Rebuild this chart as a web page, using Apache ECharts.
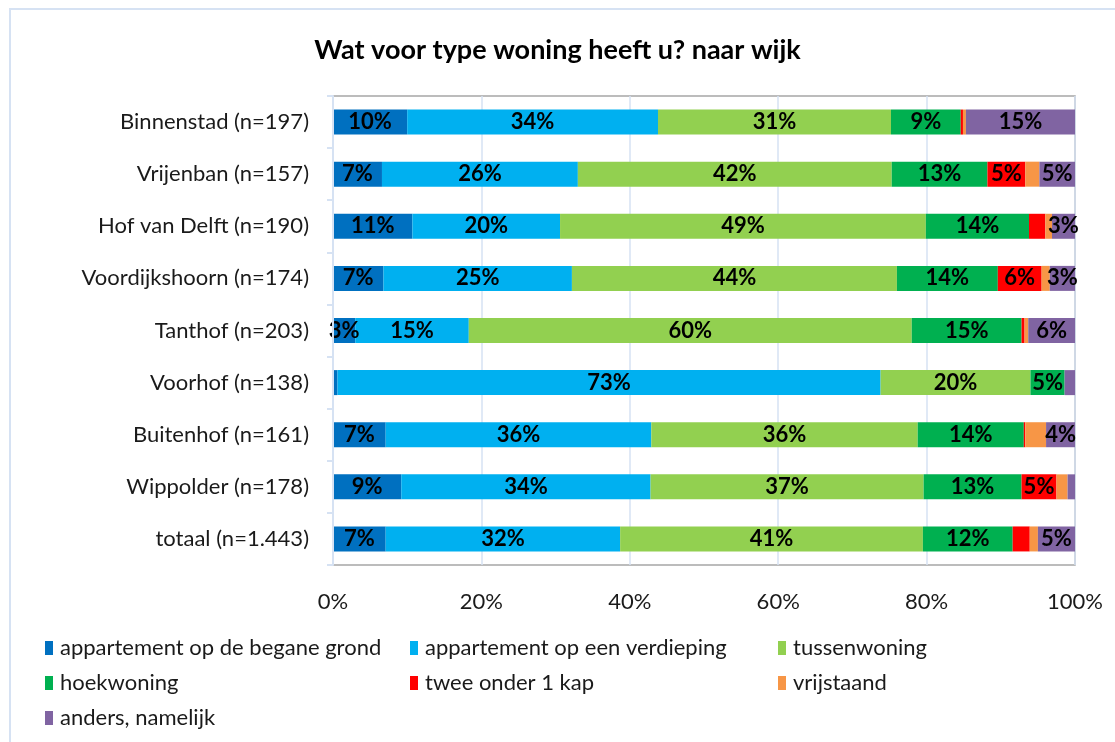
<!DOCTYPE html>
<html>
<head>
<meta charset="utf-8">
<script src="https://cdn.jsdelivr.net/npm/echarts@6/dist/echarts.min.js"></script>
<style>
  html, body { margin: 0; padding: 0; background: #fff; }
  #frame { position: absolute; left: 9px; top: 8px; width: 1120px; height: 740px;
           border-left: 2px solid #d6e2f3; border-top: 2px solid #d6e2f3; }
  #chart { position: absolute; left: 0; top: 0; width: 1115px; height: 742px; }
</style>
</head>
<body>
<div id="frame"></div>
<div id="chart"></div>
<script>
// wijken, top to bottom
const wijken = [
  'Binnenstad (n=197)', 'Vrijenban (n=157)', 'Hof van Delft (n=190)',
  'Voordijkshoorn (n=174)', 'Tanthof (n=203)', 'Voorhof (n=138)',
  'Buitenhof (n=161)', 'Wippolder (n=178)', 'totaal (n=1.443)'
];
const xTicks = ['0%', '20%', '40%', '60%', '80%', '100%'];

const apptBegane   = [10.0, 6.6, 10.7, 6.8, 3.0, 0.6, 7.1, 9.2, 7.1];
const apptVerdiep  = [33.8, 26.4, 19.9, 25.4, 15.3, 73.2, 35.8, 33.6, 31.6];
const tussenwoning = [31.4, 42.3, 49.3, 43.8, 59.7, 20.2, 35.9, 36.8, 40.8];
const hoekwoning   = [9.4, 12.9, 13.9, 13.6, 14.8, 4.6, 14.3, 13.2, 12.1];
const tweeOnder1   = [0.3, 5.1, 2.2, 5.9, 0.4, 0.0, 0.2, 4.7, 2.3];
const vrijstaand   = [0.4, 1.9, 0.9, 1.1, 0.5, 0.0, 2.8, 1.5, 1.1];
const anders       = [14.7, 4.8, 3.1, 3.4, 6.3, 1.4, 3.9, 1.0, 5.0];

const seriesDefs = [
  { name: 'appartement op de begane grond', data: apptBegane, color: '#0070c0' },
  { name: 'appartement op een verdieping', data: apptVerdiep, color: '#00b0f0' },
  { name: 'tussenwoning', data: tussenwoning, color: '#92d050' },
  { name: 'hoekwoning', data: hoekwoning, color: '#00b050' },
  { name: 'twee onder 1 kap', data: tweeOnder1, color: '#ff0000' },
  { name: 'vrijstaand', data: vrijstaand, color: '#f79646' },
  { name: 'anders, namelijk', data: anders, color: '#8064a2' }
];

const font = 'Lato, "Open Sans", sans-serif';
const chart = echarts.init(document.getElementById('chart'));

const legendBase = {
  orient: 'vertical',
  top: 632,
  itemGap: 13,
  itemWidth: 8,
  itemHeight: 14,
  icon: 'rect',
  selectedMode: false,
  textStyle: { fontFamily: font, fontSize: 22, color: '#1a1a1a', padding: [0, 0, 0, 2] }
};

chart.setOption({
  animation: false,
  color: seriesDefs.map(s => s.color),
  title: {
    text: 'Wat voor type woning heeft u? naar wijk',
    left: 'center',
    top: 32,
    textStyle: { fontFamily: font, fontSize: 27, fontWeight: 'bold', color: '#000' }
  },
  legend: [
    Object.assign({ left: 40, data: [seriesDefs[0].name, seriesDefs[3].name, seriesDefs[6].name] }, legendBase),
    Object.assign({ left: 405, data: [seriesDefs[1].name, seriesDefs[4].name] }, legendBase),
    Object.assign({ left: 773, data: [seriesDefs[2].name, seriesDefs[5].name] }, legendBase)
  ],
  grid: {
    left: 333, right: 40, top: 96, bottom: 177,
    show: true, borderColor: '#a6a6a6', borderWidth: 1.5,
    containLabel: false
  },
  xAxis: {
    type: 'value',
    min: 0, max: 100, interval: 20,
    axisLine: { show: false },
    axisTick: { show: false },
    splitLine: { lineStyle: { color: '#d6e2f3', width: 1.5 } },
    axisLabel: {
      margin: 26,
      fontFamily: font, fontSize: 22, color: '#1a1a1a',
      formatter: v => xTicks[v / 20]
    }
  },
  yAxis: {
    type: 'category',
    inverse: true,
    data: wijken,
    axisLine: { show: true, lineStyle: { color: '#d6e2f3', width: 2 } },
    axisTick: { show: true, length: 6, lineStyle: { color: '#d6e2f3', width: 2 } },
    axisLabel: { margin: 24, fontFamily: font, fontSize: 22, color: '#1a1a1a' },
    z: 5
  },
  series: seriesDefs.map(s => ({
    name: s.name,
    type: 'bar',
    stack: 'totaal',
    data: s.data,
    barWidth: 25,
    itemStyle: { color: s.color },
    label: {
      show: true,
      position: 'inside',
      fontFamily: font,
      fontSize: 22,
      fontWeight: 'bold',
      color: '#000',
      formatter: p => (p.value >= 2.95 ? Math.round(p.value) + '%' : '')
    }
  }))
});
</script>
</body>
</html>
